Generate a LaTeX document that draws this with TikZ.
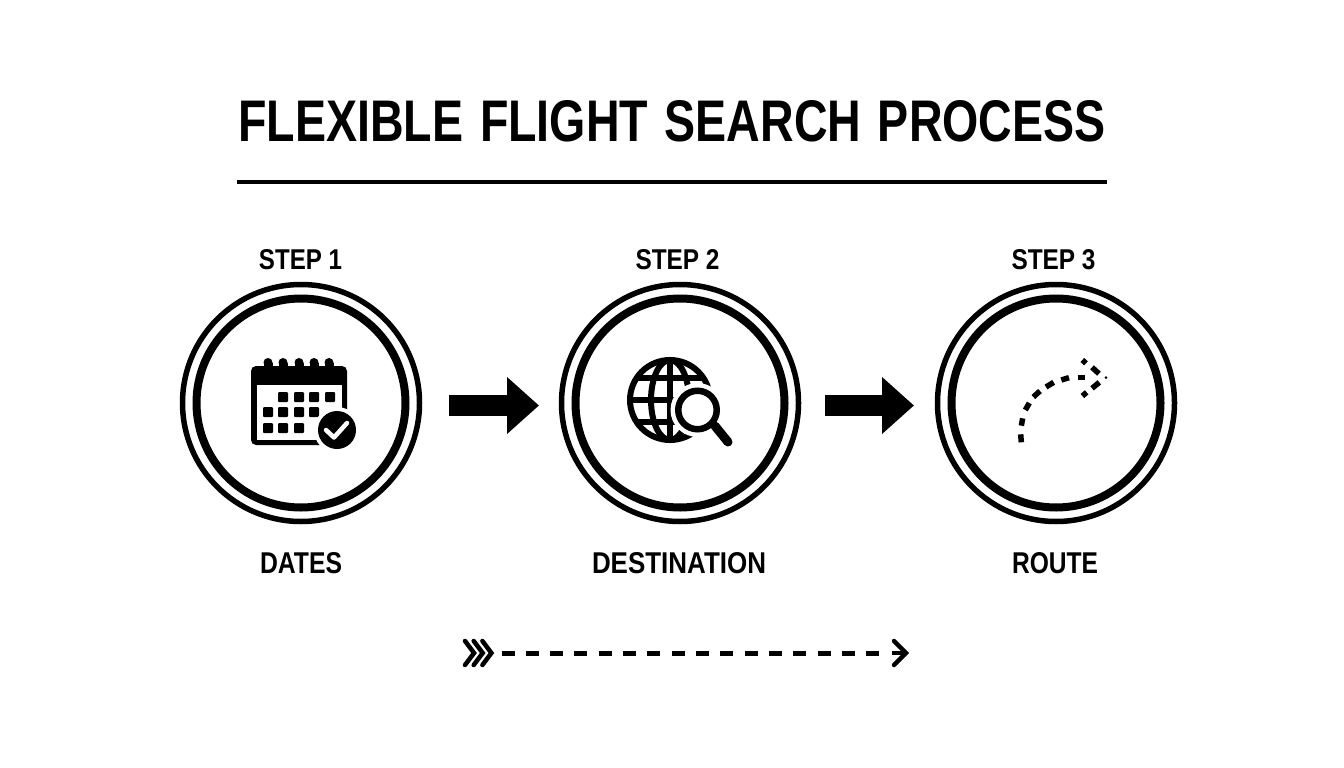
\documentclass[tikz,border=0pt]{standalone}
\usepackage{fontspec}
\usepackage{graphicx}
\setmainfont{Liberation Sans}
\usetikzlibrary{arrows.meta}
\newcommand{\fit}[3]{\resizebox{#1pt}{#2pt}{\bfseries #3}}
\tikzset{
  lab/.style={inner sep=0pt,text=black},
  ringnode/.style={circle,minimum size=242pt,inner sep=0pt,outer sep=0pt},
  bigarrow/.style={line width=21pt,-{Triangle[length=32pt,width=55pt]}}
}
\begin{document}
\begin{tikzpicture}[x=1pt,y=-1pt]
\path[use as bounding box,fill=white] (0,0) rectangle (1344,768);
% title
\node[lab] (title) at (672,121) {\fit{867}{41}{FLEXIBLE\hspace{0.08em} FLIGHT\hspace{0.08em} SEARCH\hspace{0.08em} PROCESS}};
\coordinate (ruleL) at (237,182);
\coordinate (ruleR) at (1107,182);
\draw[line width=4pt] (ruleL) -- (ruleR);
% circles
\foreach \n/\cx in {c1/301,c2/680,c3/1056}{
  \node[ringnode] (\n) at (\cx,403) {};
  \draw[line width=5.5pt] (\cx,403) circle[radius=118.5];
  \draw[line width=8pt] (\cx,403) circle[radius=104.5];
}
% step labels
\node[lab] (s1) at (300.5,260) {\fit{83}{20}{STEP 1}};
\node[lab] (s2) at (677.5,260) {\fit{84}{20}{STEP 2}};
\node[lab] (s3) at (1053.5,260) {\fit{84}{20}{STEP 3}};
\node[lab] (l1) at (301,563) {\fit{82}{21}{DATES}};
\node[lab] (l2) at (679,563) {\fit{174}{21}{DESTINATION}};
\node[lab] (l3) at (1055,563) {\fit{86}{21}{ROUTE}};
% arrows between circles
\draw[bigarrow,shorten <=27pt,shorten >=20pt] ([yshift=-2.5pt]c1.east) -- ([yshift=-2.5pt]c2.west);
\draw[bigarrow,shorten <=24pt,shorten >=21pt] ([yshift=-2.5pt]c2.east) -- ([yshift=-2.5pt]c3.west);
% calendar
\fill[rounded corners=5pt] (251,366) rectangle (347,445);
\fill[white] (257,385) rectangle (342,440);
\foreach \x in {268,283,299,314,329}{
  \fill (\x,362.5) circle[radius=4.5];
  \fill (\x-4.5,362.5) rectangle (\x+4.5,370);
}
\foreach \x/\y in {283/397,299/397,314/397,330/397,268/412,283/412,299/412,314/412,268/428,283/428,299/428}{
  \fill[rounded corners=1pt] (\x-5,\y-5) rectangle (\x+5,\y+5);
}
\fill[white] (337,430) circle[radius=23];
\fill (337,430) circle[radius=19];
\draw[white,line width=4.5pt,line cap=round,line join=round] (326,430) -- (334,437.5) -- (347,423);
% globe
\draw[line width=6pt] (670,400) circle[radius=40];
\draw[line width=6pt] (670,400) ellipse[x radius=19,y radius=40];
\draw[line width=6pt] (670,360) -- (670,440);
\draw[line width=6pt] (630,400) -- (710,400);
\begin{scope}
  \clip (670,400) circle[radius=41];
  \draw[line width=6pt] (620,378) -- (720,378);
  \draw[line width=6pt] (620,422) -- (720,422);
\end{scope}
\fill[white] (697.5,410) circle[radius=27];
\draw[line width=6.5pt] (697.5,410) circle[radius=19.25];
\draw[line width=9pt,line cap=round] (715,426) -- (728,442);
% route icon (dashes)
\begin{scope}[shift={(1000,345)},x=0.3333pt,y=-0.3333pt]
  \foreach \a/\b/\c/\d in {62/268/64/292,64/242/68/220,76/195/88/174,100/156/120/138,138/126/161/112,184/105/207/98,233/98/256/98,247/45/258/55,276/67/297/86,276/130/298/112,247/153/260/142}{
    \draw[line width=5.5pt] (\a,\b) -- (\c,\d);
  }
  \fill (318,98) circle[radius=4.5];
\end{scope}
% bottom dashed arrow
\coordinate (dashA) at (501.5,653);
\coordinate (dashB) at (880,653);
\draw[line width=5pt,dash pattern=on 13pt off 11.33pt] (dashA) -- (dashB);
\foreach \dx in {0,8.7,17.4}{
  \draw[line width=4.5pt,line cap=round,line join=miter] (465+\dx,641) -- (474+\dx,653) -- (465+\dx,665);
}
\draw[line width=4.5pt,line cap=round,line join=miter] (894,641) -- (906,653) -- (894,665);
\draw[line width=4.5pt] (892,653) -- (904,653);
\end{tikzpicture}
\end{document}
